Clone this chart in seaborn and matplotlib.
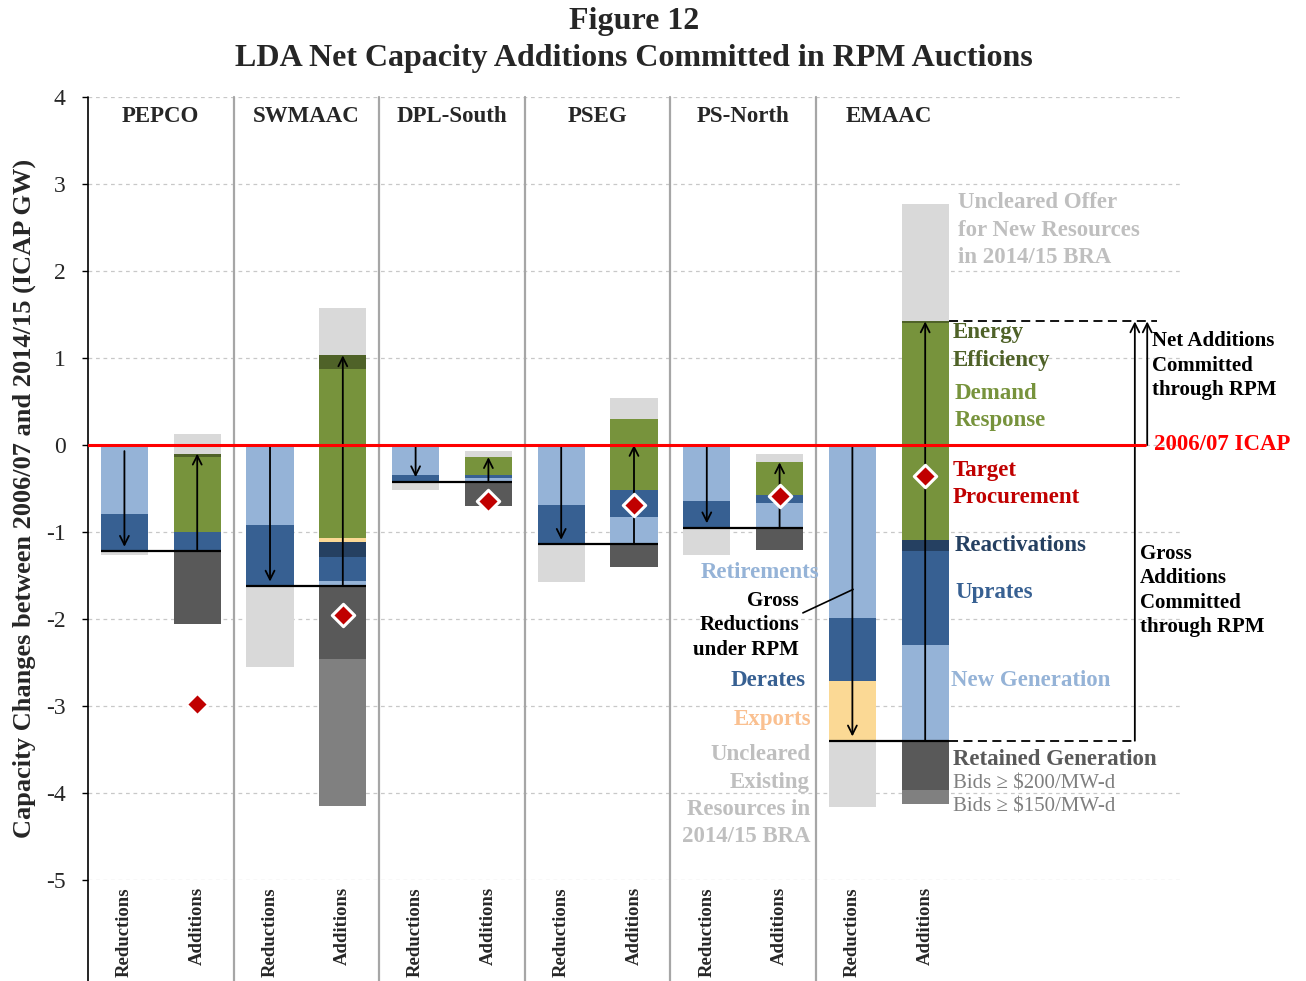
import numpy as np
import matplotlib.pyplot as plt
import seaborn as sns

regions = ["PEPCO", "SWMAAC", "DPL-South", "PSEG", "PS-North", "EMAAC"]

# reductions, stacked downward from the 2006/07 ICAP line (GW)
retirements = [0.79, 0.92, 0.35, 0.69, 0.64, 1.99]
derates = [0.43, 0.70, 0.07, 0.45, 0.31, 0.72]
exports = [0.00, 0.00, 0.00, 0.00, 0.00, 0.69]
uncleared_existing = [0.05, 0.93, 0.10, 0.44, 0.31, 0.76]

# additions, stacked upward from the net reduction level (GW)
new_generation = [0.00, 0.06, 0.04, 0.31, 0.28, 1.10]
uprates = [0.22, 0.27, 0.04, 0.31, 0.10, 1.08]
reactivations = [0.00, 0.18, 0.00, 0.00, 0.00, 0.13]
pale_band = [0.00, 0.04, 0.00, 0.00, 0.00, 0.00]
demand_response = [0.86, 1.94, 0.20, 0.82, 0.37, 2.49]
energy_efficiency = [0.04, 0.16, 0.00, 0.00, 0.00, 0.02]
uncleared_new = [0.23, 0.55, 0.07, 0.24, 0.10, 1.35]

# retained generation, below the net reduction level (GW)
retained_200 = [0.84, 0.84, 0.28, 0.26, 0.26, 0.57]
retained_150 = [0.00, 1.69, 0.00, 0.00, 0.00, 0.16]

target_procurement = [-2.98, -1.95, -0.64, -0.69, -0.59, -0.36]
reduction_arrow_top = [-0.07, 0.0, 0.0, 0.0, 0.0, 0.0]
addition_arrow_top = [-0.10, 1.03, -0.14, 0.00, -0.20, 1.42]

tick_names = ["Reductions", "Additions"] * len(regions)

LIGHT_BLUE = "#95b3d7"
BLUE = "#376092"
NAVY = "#254061"
GREEN = "#77933c"
DARK_GREEN = "#4f6228"
EXPORT = "#fbd995"
LIGHT_GRAY = "#d9d9d9"
DARK_GRAY = "#595959"
MID_GRAY = "#808080"
TARGET_RED = "#c00000"
W = 0.65

sns.set_theme(style="white")
plt.rcParams["font.family"] = ["Liberation Serif", "DejaVu Serif"]
plt.rcParams["axes.unicode_minus"] = False

fig, ax = plt.subplots(figsize=(13.06, 9.81), dpi=100)
fig.subplots_adjust(left=0.0674, right=0.9035, top=0.9011, bottom=0.1030)

n = len(regions)
red_x = np.arange(n) * 2 + 0.5
add_x = red_x + 1
net = -(np.array(retirements) + np.array(derates) + np.array(exports))


def stack(x, segments, start, direction):
    level = np.array(start, dtype=float)
    for vals, color in segments:
        h = np.array(vals) * direction
        ax.bar(x, h, bottom=level, width=W, color=color, linewidth=0, zorder=2)
        level = level + h
    return level


stack(red_x, [(retirements, LIGHT_BLUE), (derates, BLUE), (exports, EXPORT),
              (uncleared_existing, LIGHT_GRAY)], np.zeros(n), -1)
stack(add_x, [(new_generation, LIGHT_BLUE), (uprates, BLUE), (reactivations, NAVY),
              (pale_band, EXPORT), (demand_response, GREEN),
              (energy_efficiency, DARK_GREEN), (uncleared_new, LIGHT_GRAY)], net, 1)
stack(add_x, [(retained_200, DARK_GRAY), (retained_150, MID_GRAY)], net, -1)

ax.hlines(net, red_x - W / 2, add_x + W / 2, color="black", lw=1.6, zorder=4)

arrow = dict(arrowstyle="->", color="black", lw=1.3, mutation_scale=16,
             shrinkA=0, shrinkB=0)
for i in range(n):
    ax.annotate("", xy=(red_x[i], net[i] + 0.05), xytext=(red_x[i], reduction_arrow_top[i]),
                arrowprops=arrow, zorder=5)
    ax.annotate("", xy=(add_x[i], addition_arrow_top[i]), xytext=(add_x[i], net[i]),
                arrowprops=arrow, zorder=5)

sns.scatterplot(x=add_x, y=target_procurement, marker="D", s=130, color=TARGET_RED,
                edgecolor="white", linewidth=2.2, zorder=7, ax=ax, legend=False)

# 2006/07 ICAP reference line
ax.plot([0, 14.52], [0, 0], color="#ff0000", lw=2.2, zorder=6)

# EMAAC brackets on the right
top_add = addition_arrow_top[-1]
ax.plot([add_x[-1] + W / 2, 14.68], [top_add, top_add], color="black", lw=1.3,
        dashes=(5, 3), zorder=4, clip_on=False)
ax.plot([add_x[-1] + W / 2, 14.40], [net[-1], net[-1]], color="black", lw=1.3,
        dashes=(5, 3), zorder=4)
ax.annotate("", xy=(14.38, top_add), xytext=(14.38, net[-1]), arrowprops=arrow)
ax.annotate("", xy=(14.55, top_add), xytext=(14.55, 0), arrowprops=arrow)
ax.plot([9.82, 10.51], [-1.93, -1.66], color="black", lw=1.2, zorder=5)

# group separators, running down through the tick labels
for xs in range(2, 2 * n, 2):
    ax.axvline(xs, ymin=-0.13, ymax=1, color="#a6a6a6", lw=1.6, clip_on=False, zorder=1)
ax.axvline(0, ymin=-0.13, ymax=1, color="black", lw=1.2, clip_on=False, zorder=1)

for i, name in enumerate(regions):
    ax.text(2 * i + 1, 3.78, name, ha="center", va="center", fontsize=16.5, fontweight="bold")

labels_right = [
    ("Uncleared Offer\nfor New Resources\nin 2014/15 BRA", 11.95, 2.47, "#bfbfbf", "bold", 16.5, 1.4),
    ("Energy\nEfficiency", 11.88, 1.13, DARK_GREEN, "bold", 16.5, 1.4),
    ("Demand\nResponse", 11.90, 0.44, GREEN, "bold", 16.5, 1.4),
    ("Target\nProcurement", 11.88, -0.45, TARGET_RED, "bold", 16.5, 1.4),
    ("Reactivations", 11.90, -1.15, NAVY, "bold", 16.5, 1.2),
    ("Uprates", 11.92, -1.69, BLUE, "bold", 16.5, 1.2),
    ("New Generation", 11.85, -2.71, LIGHT_BLUE, "bold", 16.5, 1.2),
    ("Retained Generation", 11.88, -3.61, DARK_GRAY, "bold", 16.5, 1.2),
    ("Bids \u2265 $200/MW-d", 11.88, -3.90, "#7f7f7f", "normal", 15, 1.2),
    ("Bids \u2265 $150/MW-d", 11.88, -4.16, "#7f7f7f", "normal", 15, 1.2),
    ("Net Additions\nCommitted\nthrough RPM", 14.62, 0.91, "black", "bold", 15, 1.3),
    ("2006/07 ICAP", 14.64, 0.01, "#ff0000", "bold", 16.5, 1.2),
    ("Gross\nAdditions\nCommitted\nthrough RPM", 14.45, -1.67, "black", "bold", 15, 1.3),
]
for txt, x, y, color, weight, size, spacing in labels_right:
    ax.text(x, y, txt, ha="left", va="center", color=color, fontweight=weight,
            fontsize=size, linespacing=spacing, zorder=8)

labels_left = [
    ("Retirements", 10.05, -1.47, LIGHT_BLUE, 16.5, 1.2),
    ("Gross\nReductions\nunder RPM", 9.77, -2.07, "black", 15, 1.3),
    ("Derates", 9.86, -2.71, BLUE, 16.5, 1.2),
    ("Exports", 9.93, -3.15, "#fac090", 16.5, 1.2),
    ("Uncleared\nExisting\nResources in\n2014/15 BRA", 9.92, -4.03, "#bfbfbf", 16.5, 1.38),
]
for txt, x, y, color, size, spacing in labels_left:
    ax.text(x, y, txt, ha="right", va="center", multialignment="right", color=color,
            fontweight="bold", fontsize=size, linespacing=spacing, zorder=8)

ax.set_xlim(0, 15)
ax.set_ylim(-5, 4)
ax.set_yticks(range(-5, 5))
ax.set_xticks(np.sort(np.concatenate([red_x, add_x])))
ax.set_xticklabels(tick_names, rotation=90, fontweight="bold", fontsize=13.5, va="top")
ax.tick_params(axis="x", bottom=False, length=0, pad=5)
ax.tick_params(axis="y", left=True, length=4, width=1, color="black", labelsize=17, pad=12)
ax.yaxis.grid(True, color="#c8c8c8", linestyle=(0, (3, 3)), lw=0.9)
ax.set_axisbelow(True)
for side in ["top", "right", "bottom", "left"]:
    ax.spines[side].set_visible(False)

ax.set_ylabel("Capacity Changes between 2006/07 and 2014/15 (ICAP GW)",
              fontsize=19, fontweight="bold")
ax.yaxis.set_label_coords(-0.048, 0.487)

fig.text(0.4855, 0.978, "Figure 12", ha="center", va="center", fontsize=23, fontweight="bold")
fig.text(0.4855, 0.940, "LDA Net Capacity Additions Committed in RPM Auctions",
         ha="center", va="center", fontsize=23, fontweight="bold")

fig.savefig("out.png", dpi=100)
